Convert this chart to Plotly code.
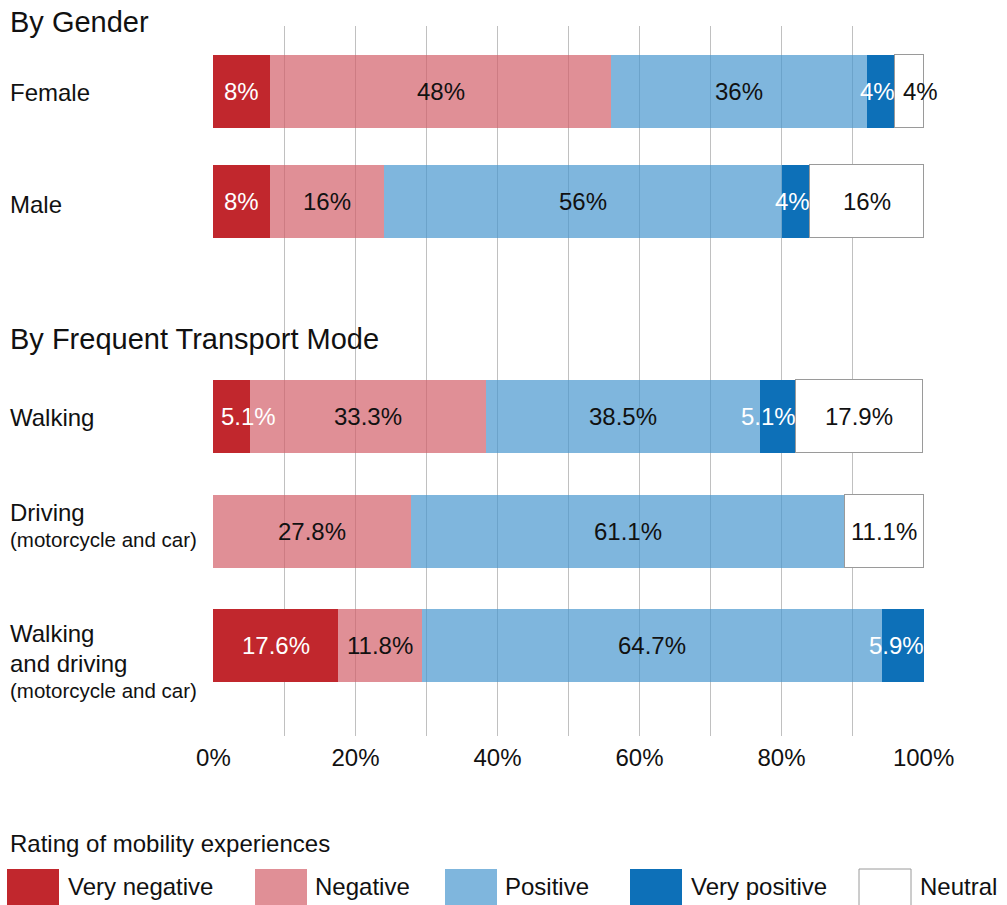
import plotly.graph_objects as go

# ---------------- data ----------------
categories = ["Female", "Male", "Walking", "Driving", "Walking and driving"]
label_lines = [
    ["Female"],
    ["Male"],
    ["Walking"],
    ["Driving", "(motorcycle and car)"],
    ["Walking", "and driving", "(motorcycle and car)"],
]
group_titles = ["By Gender", "By Frequent Transport Mode"]
series_names = ["Very negative", "Negative", "Positive", "Very positive", "Neutral"]
very_negative = [8, 8, 5.1, 0, 17.6]
negative = [48, 16, 33.3, 27.8, 11.8]
positive = [36, 56, 38.5, 61.1, 64.7]
very_positive = [4, 4, 5.1, 0, 5.9]
neutral = [4, 16, 17.9, 11.1, 0]
tick_values = [0, 20, 40, 60, 80, 100]
tick_labels = ["0%", "20%", "40%", "60%", "80%", "100%"]
legend_title = "Rating of mobility experiences"

series_values = [very_negative, negative, positive, very_positive, neutral]

# ---------------- styling / layout ----------------
FONT = "Liberation Sans, Arial, sans-serif"
W, H = 1007, 905
L, R, T, B = 213, 924, 26, 736
PW, PH = R - L, B - T

colors = ["#C1272D", "rgba(211,96,105,0.7)", "rgba(72,151,206,0.7)", "#0D70B8", "#FFFFFF"]
text_colors = ["white", "#111111", "#111111", "white", "#111111"]
line_colors = [None, None, None, None, "#9a9a9a"]

row_y = [65.5, 175.5, 390.5, 505, 619.5]   # row centres (px offsets from plot top)
bar_w = 73
label_line_y = [[92.5], [204], [417], [512, 539], [633, 663, 690]]
label_line_size = [[24], [24], [24], [24, 20.5], [24, 24, 20.5]]
title_y = [22, 338.5]


def px_x(px):
    return (px - L) / PW


def px_y(py):
    return (B - py) / PH


EM = {c: 0.556 for c in "0123456789"}
EM.update({".": 0.278, "%": 0.889})


def text_w(s, size=24):
    return sum(EM.get(c, 0.556) for c in s) * size


fig = go.Figure()
for i, name in enumerate(series_names):
    vals = [v if v > 0 else None for v in series_values[i]]
    mk = dict(color=colors[i])
    if line_colors[i]:
        mk["line"] = dict(color=line_colors[i], width=1)
    else:
        mk["line"] = dict(width=0)
    fig.add_trace(go.Bar(
        x=vals, y=row_y, orientation="h", width=bar_w, name=name,
        marker=mk, showlegend=False, hoverinfo="x+name",
    ))

annotations = []
# value labels
for j in range(len(categories)):
    start = 0.0
    for i in range(len(series_names)):
        v = series_values[i][j]
        if v <= 0:
            continue
        end = min(round(start + v, 6), 100)
        txt = f"{v:g}%"
        seg_px = v / 100 * PW
        tw = text_w(txt)
        if tw + 4 <= seg_px:
            x, xa, xs = (start + end) / 2, "center", 0
        elif i == 3:
            x, xa, xs = end, "right", 2
        else:
            x, xa, xs = start, "left", 6
        annotations.append(dict(
            x=x, y=row_y[j], xref="x", yref="y", text=txt, showarrow=False,
            xanchor=xa, yanchor="middle", xshift=xs,
            font=dict(family=FONT, size=24, color=text_colors[i]),
        ))
        start = end

# category labels
for j, lines in enumerate(label_lines):
    for k, line in enumerate(lines):
        annotations.append(dict(
            x=px_x(8), y=label_line_y[j][k] - T, xref="paper", yref="y",
            text=line, showarrow=False, xanchor="left", yanchor="middle",
            font=dict(family=FONT, size=label_line_size[j][k], color="#111111"),
        ))

# group titles
for g, t in enumerate(group_titles):
    annotations.append(dict(
        x=px_x(8), y=px_y(title_y[g]), xref="paper", yref="paper",
        text=t, showarrow=False, xanchor="left", yanchor="middle",
        font=dict(family=FONT, size=29, color="#111111"),
    ))

# legend
annotations.append(dict(
    x=px_x(8), y=px_y(843.5), xref="paper", yref="paper", text=legend_title,
    showarrow=False, xanchor="left", yanchor="middle",
    font=dict(family=FONT, size=24, color="#111111"),
))
sq_x = [7, 255, 445, 630, 859]
txt_x = [66, 313, 503, 689, 918]
shapes = []
for i, name in enumerate(series_names):
    shapes.append(dict(
        type="rect", xref="paper", yref="paper",
        x0=px_x(sq_x[i]), x1=px_x(sq_x[i] + 52), y0=px_y(869), y1=px_y(907),
        fillcolor=colors[i],
        line=dict(color=line_colors[i] or "rgba(0,0,0,0)", width=1 if line_colors[i] else 0),
    ))
    annotations.append(dict(
        x=px_x(txt_x[i]), y=px_y(886), xref="paper", yref="paper", text=name,
        showarrow=False, xanchor="left", yanchor="middle",
        font=dict(family=FONT, size=24, color="#111111"),
    ))

fig.update_layout(
    width=W, height=H, barmode="stack",
    margin=dict(l=L, r=W - R, t=T, b=H - B, pad=0),
    paper_bgcolor="white", plot_bgcolor="white",
    bargap=0,
    annotations=annotations, shapes=shapes,
    xaxis=dict(
        range=[-0.06, 100.06], tickvals=tick_values, ticktext=tick_labels,
        showgrid=True, gridcolor="#c0c0c0", gridwidth=1,
        minor=dict(dtick=10, tick0=0, showgrid=True, gridcolor="#c0c0c0", gridwidth=1),
        zeroline=False, showline=False, ticks="", ticklabelstandoff=5,
        tickfont=dict(family=FONT, size=24, color="#111111"),
        fixedrange=True,
    ),
    yaxis=dict(
        range=[PH, 0], showgrid=False, zeroline=False, showticklabels=False,
        showline=False, ticks="", fixedrange=True,
    ),
    font=dict(family=FONT),
)

fig.write_html(
    "out.html",
    config={"displayModeBar": False},
    post_script="document.body.style.margin='0px';document.body.style.padding='0px';",
)
